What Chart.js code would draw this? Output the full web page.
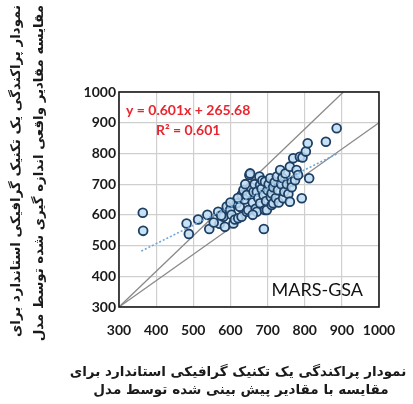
<!DOCTYPE html>
<html><head><meta charset="utf-8">
<script src="https://cdn.jsdelivr.net/npm/chart.js@4"></script>
<style>html,body{margin:0;padding:0;background:#fff}canvas{display:block}</style>
</head><body>
<canvas id="c" width="413" height="404"></canvas>
<script>
const obsX = [364,365,482,488,513,538,543,567,571,555,585,581,590,599,603,608,612,617,621,625,630,630,635,638,644,644,648,651,653,655,660,662,665,668,671,671,675,678,680,680,684,686,689,690,693,693,696,698,700,703,707,709,711,711,715,715,719,722,725,728,730,734,737,740,742,745,748,752,756,760,760,765,765,769,774,778,782,787,792,794,803,808,812,857,886,620,640,600,575,660];
const obsY = [607,548,572,538,585,600,554,610,571,575,561,594,627,616,600,572,585,638,589,626,594,665,681,650,610,665,616,730,735,690,640,675,700,620,610,675,655,725,697,638,685,712,665,554,616,708,645,616,680,700,719,658,632,670,638,690,706,655,725,680,640,746,700,720,654,675,735,700,668,757,643,708,690,784,713,746,730,789,654,787,806,833,719,838,882,655,700,640,598,600];
const upperLineX = [300,904];
const upperLineY = [300,1000];
const lowerLineX = [300,1000];
const lowerLineY = [300,900];
const trendX = [360,890];
const trendSlope = 0.601, trendIntercept = 265.68;
const tickValues = [300,400,500,600,700,800,900,1000];
const equationText = 'y = 0.601x + 265.68';
const r2Text = 'R² = 0.601';
const panelLabel = 'MARS-GSA';
const yTitle = ['نمودار پراکندگی یک تکنیک گرافیکی استاندارد برای','مقایسه مقادیر واقعی اندازه گیری شده توسط مدل'];
const xTitle = ['نمودار پراکندگی یک تکنیک گرافیکی استاندارد برای','مقایسه با مقادیر پیش بینی شده توسط مدل'];

const pts = obsX.map((x,i)=>({x, y: obsY[i]}));
const line = (xs, ys) => xs.map((x,i)=>({x, y: ys[i]}));
const trend = trendX.map(x=>({x, y: trendSlope*x+trendIntercept}));

const titleFontFamily = "'DejaVu Sans', sans-serif";
function fitFont(ctx, text, target, weight){
  ctx.font = weight+' 16px '+titleFontFamily;
  const w = ctx.measureText(text).width;
  return 16*target/w;
}

const deco = {
  id:'deco',
  afterDraw(chart){
    const {ctx, chartArea:a} = chart;
    ctx.save();
    ctx.strokeStyle = '#1a1a1a'; ctx.lineWidth = 1.6;
    ctx.strokeRect(a.left, a.top, a.right-a.left, a.bottom-a.top);
    ctx.fillStyle = '#e8262f';
    ctx.font = "bold 14px Lato, sans-serif";
    ctx.textBaseline = 'middle'; ctx.textAlign = 'left';
    ctx.fillText(equationText, a.left+7, a.top+18);
    ctx.fillText(r2Text, a.left+37, a.top+38);
    ctx.fillStyle = '#111';
    ctx.font = "18px Lato, sans-serif";
    ctx.textAlign = 'right';
    ctx.fillText(panelLabel, a.right-16, a.bottom-17);
    ctx.fillStyle = '#1a1a1a';
    ctx.direction = 'rtl';
    const fs = fitFont(ctx, xTitle[0], 337, 'bold');
    ctx.font = 'bold '+fs.toFixed(2)+'px '+titleFontFamily;
    ctx.textAlign = 'center';
    ctx.fillText(xTitle[0], 238, 372);
    ctx.fillText(xTitle[1], 241, 390);
    const fy = fitFont(ctx, yTitle[0], 332, 'bold');
    ctx.font = 'bold '+fy.toFixed(2)+'px '+titleFontFamily;
    [17, 40].forEach((x,i)=>{
      ctx.save();
      ctx.translate(x, 5);
      ctx.rotate(-Math.PI/2);
      ctx.textAlign = 'right';
      ctx.fillText(yTitle[i], 0, 0);
      ctx.restore();
    });
    ctx.restore();
  }
};

const tickFont = {family:'Lato, sans-serif', size:14, weight:'bold'};
const fmt = (v)=>String(v);
new Chart(document.getElementById('c'), {
  type:'scatter',
  data:{datasets:[
    {data:line(upperLineX,upperLineY), showLine:true, borderColor:'#8a8a8a', borderWidth:1.3, pointRadius:0, order:3},
    {data:line(lowerLineX,lowerLineY), showLine:true, borderColor:'#8a8a8a', borderWidth:1.3, pointRadius:0, order:3},
    {data:trend, showLine:true, borderColor:'#6fa6d8', borderWidth:1.6, borderDash:[2,2], pointRadius:0, order:1},
    {data:pts, pointRadius:4.4, pointBorderWidth:1.8, pointBackgroundColor:'rgba(190,220,242,0.85)', pointBorderColor:'#1d3f63', order:2}
  ]},
  options:{
    responsive:false, animation:false, devicePixelRatio:1,
    layout:{padding:{top:92,right:34,left:0,bottom:0}},
    plugins:{legend:{display:false}, tooltip:{enabled:false}},
    scales:{
      x:{type:'linear', min:300, max:1000,
        afterBuildTicks:(s)=>{s.ticks = tickValues.map(v=>({value:v}));},
        afterFit:(s)=>{s.height = 97;},
        grid:{color:'#cfcfcf', lineWidth:1.2, drawTicks:false},
        border:{display:false},
        ticks:{padding:15, color:'#1a1a1a', font:tickFont, maxRotation:0, autoSkip:false, callback:fmt}},
      y:{type:'linear', min:300, max:1000,
        afterBuildTicks:(s)=>{s.ticks = tickValues.map(v=>({value:v}));},
        afterFit:(s)=>{s.width = 119;},
        grid:{color:'#cfcfcf', lineWidth:1.2, drawTicks:false},
        border:{display:false},
        ticks:{padding:3, color:'#1a1a1a', font:tickFont, autoSkip:false, callback:fmt}}
    }
  },
  plugins:[deco]
});
</script>
</body></html>
